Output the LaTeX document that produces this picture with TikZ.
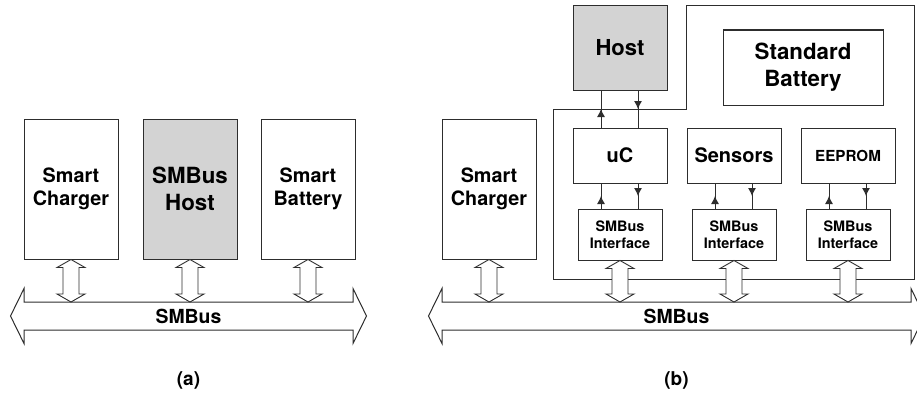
\documentclass[tikz,border=0pt]{standalone}
\usepackage{fontspec}
\setmainfont{TeX Gyre Heros}
\usepackage{xcolor}
\usetikzlibrary{arrows.meta,positioning,calc,decorations.markings}
\definecolor{hostgray}{RGB}{211,211,211}
\definecolor{linegray}{RGB}{45,45,45}
% hollow two-way arrow between a box and the bus
\newcommand{\updown}[2]{%
  \draw[twoway] let \p1=#1, \p2=#2 in
    (\x1,\y1) -- (\x1+14pt,\y1-8pt) -- (\x1+8pt,\y1-8pt) -- (\x1+8pt,\y2+8pt)
    -- (\x1+14pt,\y2+8pt) -- (\x1,\y2) -- (\x1-14pt,\y2+8pt) -- (\x1-8pt,\y2+8pt)
    -- (\x1-8pt,\y1-8pt) -- (\x1-14pt,\y1-8pt) -- cycle;}
% bus outline around its label node
\newcommand{\busoutline}[1]{%
  \draw[busline] (#1.north west) -- ++(0,13.5) -- ($(#1.west)+(-13.5,0)$)
    -- ($(#1.south west)+(0,-13.5)$) -- (#1.south west) -- (#1.south east)
    -- ++(0,-13.5) -- ($(#1.east)+(13.5,0)$) -- ($(#1.north east)+(0,13.5)$)
    -- (#1.north east) -- cycle;}

\begin{document}
\begin{tikzpicture}[
  x=1pt, y=1pt,
  node distance=24pt and 24pt,
  block/.style={draw=linegray, line width=1pt, fill=white, align=center, inner sep=2pt},
  tallbox/.style={block, minimum width=94pt, minimum height=140pt, font=\bfseries\fontsize{19.8}{22.5}\selectfont},
  hostbox/.style={tallbox, fill=hostgray, font=\bfseries\fontsize{22.3}{27}\selectfont},
  unitbox/.style={block, minimum width=94pt, minimum height=55pt, font=\bfseries\fontsize{20}{24}\selectfont},
  ifacebox/.style={block, minimum width=84pt, minimum height=51pt, font=\bfseries\fontsize{14.4}{17}\selectfont},
  busname/.style={minimum height=28pt, inner sep=0pt, outer sep=0pt, font=\bfseries\fontsize{19.4}{22}\selectfont},
  caption/.style={font=\bfseries\fontsize{19}{22}\selectfont},
  busline/.style={draw=linegray, line width=1pt, line join=miter},
  twoway/.style={draw=linegray, line width=0.9pt, fill=white},
  frame/.style={draw=linegray, line width=1pt},
  flow/.style={draw=linegray, line width=0.9pt, postaction={decorate},
    decoration={markings, mark=at position 0.5 with {\arrow{Latex[length=8pt,width=8pt]}}}}
]
  \useasboundingbox (0,0) rectangle (917,392);

  % (a) three devices on the bus
  \node[tallbox] (charger) at (71,203) {Smart\\Charger};
  \node[hostbox, right=24pt of charger] (host) {SMBus\\Host};
  \node[tallbox, right=23pt of host] (battery) {Smart\\Battery};

  \node[busname, minimum width=329pt] (busA) at (188.5,76) {SMBus};
  \busoutline{busA}

  \updown{(charger.south)}{(charger.south |- busA.north)}
  \updown{(host.south)}{(host.south |- busA.north)}
  \updown{(battery.south)}{(battery.south |- busA.north)}

  \node[caption] (capA) at (188.5,12) {(a)};

  % (b) standard battery with its own parts
  \node[tallbox] (charger2) at (489,203) {Smart\\Charger};
  \node[unitbox] (uc) at (620,236.5) {uC};
  \node[unitbox, fill=hostgray, minimum height=84pt, font=\bfseries\fontsize{22}{26}\selectfont, above=37pt of uc] (host2) {Host};
  \node[unitbox, right=19pt of uc] (sensors) {Sensors};
  \node[unitbox, right=19pt of sensors, font=\bfseries\fontsize{15.2}{18}\selectfont] (eeprom) {EEPROM};
  \node[ifacebox, below=25pt of uc] (iface1) {SMBus\\Interface};
  \node[ifacebox, below=25pt of sensors] (iface2) {SMBus\\Interface};
  \node[ifacebox, below=25pt of eeprom] (iface3) {SMBus\\Interface};
  \node[block, minimum width=160pt, minimum height=75pt, font=\bfseries\fontsize{22.3}{27}\selectfont] (stdbat) at (803,324.5) {Standard\\Battery};

  \coordinate (frameSW) at ($(iface1.south -| uc.west)+(-19,-19)$);
  \coordinate (notch) at ($(uc.north -| sensors.west)+(0,18)$);
  \coordinate (frameNE) at ($(host2.north -| eeprom.east)+(19,0)$);
  \draw[frame] (frameSW) |- (notch) |- (frameNE) |- (frameSW) -- cycle;

  \draw[flow] ($(uc.north)+(-19,0)$) -- ($(host2.south)+(-19,0)$);
  \draw[flow] ($(host2.south)+(18,0)$) -- ($(uc.north)+(18,0)$);
  \foreach \part/\link in {uc/iface1, sensors/iface2, eeprom/iface3}{
    \draw[flow] ($(\link.north -| \part.south)+(-19,0)$) -- ($(\part.south)+(-19,0)$);
    \draw[flow] ($(\part.south)+(18,0)$) -- ($(\link.north -| \part.south)+(18,0)$);
  }

  \node[busname, minimum width=469pt] (busB) at (676.5,76) {SMBus};
  \busoutline{busB}

  \updown{(charger2.south)}{(charger2.south |- busB.north)}
  \updown{(iface1.south)}{(iface1.south |- busB.north)}
  \updown{(iface2.south)}{(iface2.south |- busB.north)}
  \updown{(iface3.south)}{(iface3.south |- busB.north)}

  \node[caption] (capB) at (676.5,12) {(b)};
\end{tikzpicture}
\end{document}
